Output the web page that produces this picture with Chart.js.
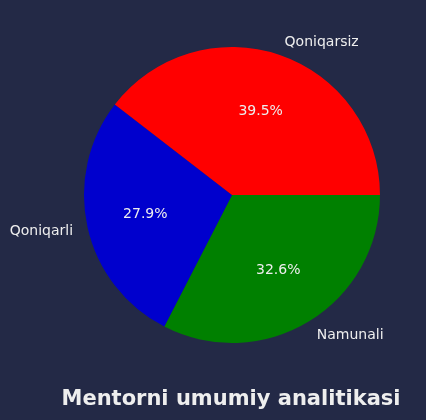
<!DOCTYPE html>
<html>
<head>
<meta charset="utf-8">
<script src="https://cdn.jsdelivr.net/npm/chart.js@4"></script>
<style>
    html, body { margin: 0; padding: 0; background: #232946; }
    #wrap { width: 426px; height: 420px; }
</style>
</head>
<body>
<div id="wrap"><canvas id="pie" width="426" height="420"></canvas></div>
<script>
/* ================= DATA ================= */
// Order is clockwise from 3 o'clock (matplotlib draws counter-clockwise)
const labels = ["Namunali", "Qoniqarli", "Qoniqarsiz"];
const counts = [14, 12, 17];
const colors = ["#008000", "#0000cd", "#ff0000"];
const chartTitle = "Mentorni umumiy analitikasi";

const textColor = "#eeeeee";
const fontFamily = "'DejaVu Sans', sans-serif";

/* ================= LABEL PLUGIN ================= */
const pieLabels = {
    id: 'pieLabels',
    afterDraw(chart) {
        const ctx = chart.ctx;
        const total = counts.reduce((s, v) => s + v, 0);
        const arcs = chart.getDatasetMeta(0).data;

        ctx.save();
        ctx.fillStyle = textColor;
        ctx.textBaseline = 'middle';
        ctx.font = "14px " + fontFamily;

        arcs.forEach((arc, i) => {
            const mid = (arc.startAngle + arc.endAngle) / 2;
            const r = arc.outerRadius;
            const cx = arc.x, cy = arc.y;

            // category label, outside the slice
            const lx = cx + Math.cos(mid) * r * 1.1;
            const ly = cy + Math.sin(mid) * r * 1.1;
            ctx.textAlign = Math.cos(mid) >= 0 ? 'left' : 'right';
            ctx.fillText(labels[i], lx, ly + 1);

            // percentage, inside the slice
            const px = cx + Math.cos(mid) * r * 0.6;
            const py = cy + Math.sin(mid) * r * 0.6;
            ctx.textAlign = 'center';
            ctx.fillText((counts[i] / total * 100).toFixed(1) + "%", px, py);
        });

        // title under the pie
        ctx.font = "bold 21px " + fontFamily;
        ctx.textAlign = 'center';
        ctx.fillText(chartTitle, 231, 400);
        ctx.restore();
    }
};

/* ================= CHART ================= */
new Chart(document.getElementById("pie"), {
    type: 'pie',
    data: {
        labels: labels,
        datasets: [{
            data: counts,
            backgroundColor: colors,
            borderWidth: 0
        }]
    },
    options: {
        responsive: false,
        animation: false,
        rotation: 90,
        layout: { padding: { left: 84, right: 46, top: 47, bottom: 77 } },
        plugins: {
            legend: { display: false },
            tooltip: { enabled: false },
            title: { display: false }
        }
    },
    plugins: [pieLabels]
});
</script>
</body>
</html>
